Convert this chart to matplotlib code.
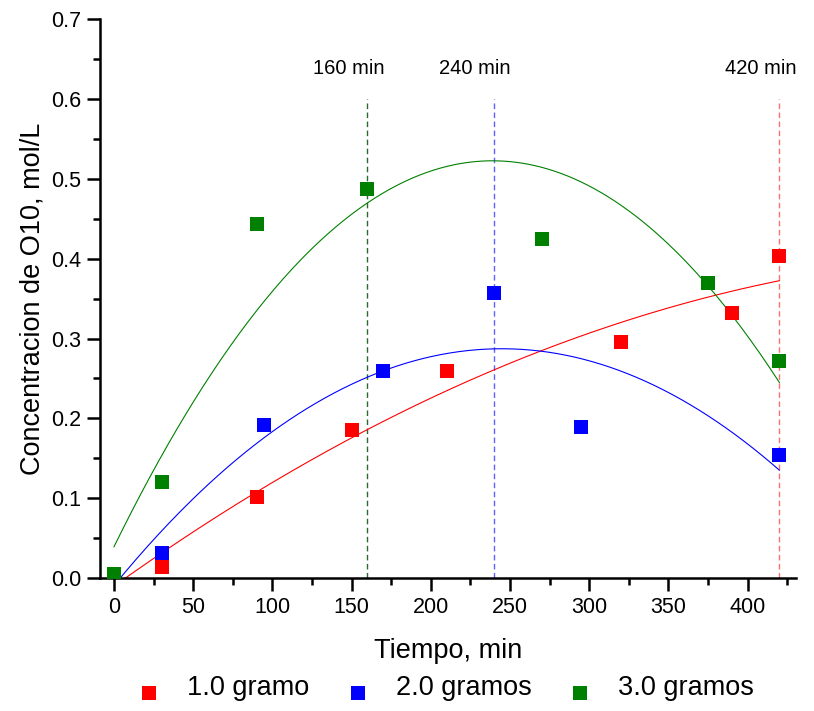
import numpy as np
import matplotlib
matplotlib.use("Agg")
import matplotlib.pyplot as plt
from matplotlib.ticker import MultipleLocator, FormatStrFormatter

plt.rcParams['font.family'] = ['Liberation Sans', 'DejaVu Sans']

# Measured O10 concentration (mol/L) vs time (min) for three catalyst loads
t_1g = [0, 30, 90, 150, 210, 320, 390, 420]
c_1g = [0.0, 0.014, 0.101, 0.186, 0.259, 0.296, 0.332, 0.403]

t_2g = [0, 30, 95, 170, 240, 295, 420]
c_2g = [0.0, 0.031, 0.192, 0.259, 0.357, 0.189, 0.154]

t_3g = [0, 30, 90, 160, 270, 375, 420]
c_3g = [0.005, 0.120, 0.444, 0.487, 0.425, 0.369, 0.272]

labels = ["1.0 gramo", "2.0 gramos", "3.0 gramos"]
colors = ["#ff0000", "#0000ff", "#008000"]

# Reference times marked with vertical lines
ref_times = [160, 240, 420]
ref_labels = ["160 min", "240 min", "420 min"]
ref_colors = ["#2a6a2a", "#6060ff", "#ff7070"]

fig = plt.figure(figsize=(8.14, 7.11), dpi=100)
ax = fig.add_axes([0.1229, 0.187, 0.855, 0.786])

series = [(t_1g, c_1g), (t_2g, c_2g), (t_3g, c_3g)]
tt = np.linspace(0, 420, 300)
handles = []
for (t, c), col, lab in zip(series, colors, labels):
    coef = np.polyfit(t, c, 2)
    ax.plot(tt, np.polyval(coef, tt), color=col, lw=0.8, zorder=2)
    h = ax.scatter(t, c, marker='s', s=92, color=col, linewidths=0, zorder=3, label=lab)
    handles.append(h)
# the 3.0 g markers sit on top of the others at t = 0
handles[2].set_zorder(4)

for x, lab, col in zip(ref_times, ref_labels, ref_colors):
    ax.plot([x, x], [0, 0.6], color=col, lw=1.0, ls=(0, (4, 2.5)), zorder=1)
    ax.text(x - 12, 0.638, lab, ha='center', va='center', fontsize=14.5)

ax.set_xlim(-8.8, 430.5)
ax.set_ylim(0, 0.7)
ax.xaxis.set_major_locator(MultipleLocator(50))
ax.xaxis.set_minor_locator(MultipleLocator(25))
ax.yaxis.set_major_locator(MultipleLocator(0.1))
ax.yaxis.set_minor_locator(MultipleLocator(0.05))
ax.yaxis.set_major_formatter(FormatStrFormatter('%.1f'))

for s in ['top', 'right']:
    ax.spines[s].set_visible(False)
for s in ['left', 'bottom']:
    ax.spines[s].set_linewidth(1.8)

ax.tick_params(which='major', direction='out', length=9.3, width=1.8, labelsize=15.5, pad=4)
ax.tick_params(which='minor', direction='out', length=5, width=1.8)

ax.set_xlabel("Tiempo, min", fontsize=19.5)
ax.set_ylabel("Concentracion de O10, mol/L", fontsize=19.5)
ax.xaxis.set_label_coords(0.5, -0.108)
ax.yaxis.set_label_coords(-0.079, 0.5)

fig.legend(handles=handles, labels=labels, loc='center', bbox_to_anchor=(0.548, 0.032),
           ncol=3, frameon=False, fontsize=19.5, markerscale=1.0,
           handlelength=0.8, handletextpad=1.0, columnspacing=1.4,
           scatteryoffsets=[0.1])

fig.savefig("out.png", dpi=100)
